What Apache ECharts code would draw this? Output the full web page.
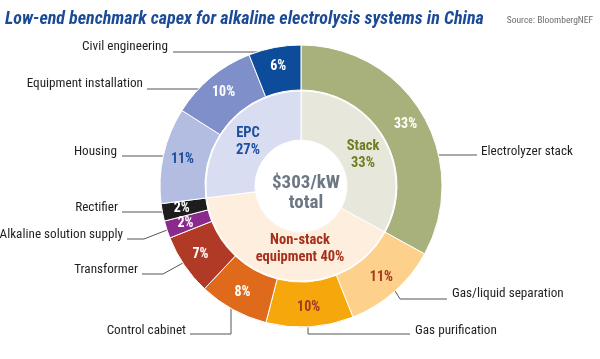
<!DOCTYPE html>
<html><head><meta charset="utf-8">
<script src="https://cdn.jsdelivr.net/npm/echarts@6/dist/echarts.min.js"></script>
<style>html,body{margin:0;padding:0;background:#fff}#c{width:600px;height:359px}</style>
</head><body><div id="c"></div>
<script>
// ---- data ----
const outerCategories = ['Electrolyzer stack','Gas/liquid separation','Gas purification','Control cabinet','Transformer','Alkaline solution supply','Rectifier','Housing','Equipment installation','Civil engineering'];
const outerValues = [33, 11, 10, 8, 7, 2, 2, 11, 10, 6];
const innerCategories = ['Stack', 'Non-stack\nequipment', 'EPC'];
const innerValues = [33, 40, 27];
const totalCost = 303;
const titleText = 'Low-end benchmark capex for alkaline electrolysis systems in China';
const sourceText = 'Source: BloombergNEF';

// ---- style ----
const FONT = "'Roboto Condensed',sans-serif";
const CX = 301, CY = 186, R_OUT = 141, R_MID = 95, R_IN = 46;
const outerColors = ['#a8b07c','#fdd08c','#f6a70c','#df6a1c','#b13a27','#8b2a8c','#1d1d1d','#b3bde2','#7f8fc9','#0c4c9b'];
const outerPctColors = ['#fff','#a3391f','#a3391f','#fff','#fff','#fff','#fff','#1f4f9e','#fff','#fff'];
const innerColors = ['#e7e8db','#fdeedd','#d9ddf1'];
const innerTextColors = ['#6f7d1f','#a52f1c','#1c4fa0'];
const innerLabelPos = [[363,155],[300,249],[248,142]];
// external labels: text anchor, align, contact spec, elbow/end points
const extLabels = [
  {tx:481, ty:152, align:'left',  contact:{side:'R', y:155}, pts:[[477,155]]},
  {tx:452, ty:294, align:'left',  contact:{side:'R', y:291}, pts:[[400,299],[447,299]]},
  {tx:415, ty:331, align:'left',  contact:{side:'B', x:308}, pts:[[308,334],[410,334]]},
  {tx:186, ty:331, align:'right', contact:{side:'B', x:231}, pts:[[231,334],[190,334]]},
  {tx:138, ty:270, align:'right', contact:{side:'L', y:263}, pts:[[163,274],[142,274]]},
  {tx:123, ty:235, align:'right', contact:{side:'L', y:230}, pts:[[144,239],[127,239]]},
  {tx:118, ty:208, align:'right', contact:{side:'L', y:212}, pts:[[122,212]]},
  {tx:117, ty:152, align:'right', contact:{side:'L', y:156}, pts:[[122,156]]},
  {tx:143, ty:84,  align:'right', contact:{side:'L', y:89},  pts:[[147,89]]},
  {tx:168, ty:47,  align:'right', contact:{side:'L', y:52},  pts:[[173,52]]}
];
function contactPoint(c){
  if (c.side === 'B') { const dx = c.x - CX; return [c.x, CY + Math.sqrt(R_OUT*R_OUT - dx*dx)]; }
  const dy = c.y - CY; const w = Math.sqrt(R_OUT*R_OUT - dy*dy);
  return [c.side === 'L' ? CX - w : CX + w, c.y];
}

const chart = echarts.init(document.getElementById('c'), null, {renderer:'canvas'});
chart.setOption({
  animation: false,
  backgroundColor: '#fff',
  title: [
    {text: titleText, left: 0, top: 5, textStyle:{fontFamily:FONT, fontSize:18, fontWeight:'bold', fontStyle:'italic', color:'#1b4b96'}},
    {text: sourceText, right: 2, top: 11, textStyle:{fontFamily:FONT, fontSize:9.5, fontWeight:'normal', color:'#6d6d6d'}},
    {text: '$' + totalCost + '/kW\ntotal', left: CX, top: CY + 2, textAlign:'center', textVerticalAlign:'middle',
     textStyle:{fontFamily:FONT, fontSize:19, fontWeight:'bold', color:'#6c7883', lineHeight:20}}
  ],
  series: [
    { // center white disc with soft edge
      type:'pie', center:[CX,CY], radius:[0,R_IN], silent:true, z:1,
      data:[{value:1, name:''}],
      itemStyle:{color:'#fff', shadowBlur:3, shadowColor:'rgba(0,0,0,0.35)'},
      label:{show:false}, labelLine:{show:false}
    },
    { // inner ring
      type:'pie', center:[CX,CY], radius:[R_IN,R_MID], startAngle:90, clockwise:true, silent:true,
      data: innerCategories.map((n,i)=>({name:n, value:innerValues[i], itemStyle:{color:innerColors[i]},
        label:{color:innerTextColors[i]}})),
      itemStyle:{borderColor:'#fff', borderWidth:1},
      label:{show:true, position:'inside', fontFamily:FONT, fontSize:14.5, fontWeight:'bold', lineHeight:17, align:'center',
        formatter: p => p.name.indexOf('\n')>=0 ? p.name + ' ' + p.value + '%' : p.name + '\n' + p.value + '%'},
      labelLine:{show:false},
      labelLayout: p => ({x: innerLabelPos[p.dataIndex][0], y: innerLabelPos[p.dataIndex][1], align:'center', verticalAlign:'middle'})
    },
    { // outer ring
      type:'pie', center:[CX,CY], radius:[R_MID+1,R_OUT], startAngle:90, clockwise:true, silent:true,
      data: outerCategories.map((n,i)=>({name:n, value:outerValues[i], itemStyle:{color:outerColors[i]},
        label:{color:outerPctColors[i]}})),
      itemStyle:{borderColor:'#fff', borderWidth:1},
      label:{show:true, position:'inside', fontFamily:FONT, fontSize:14, fontWeight:'bold', formatter: p => p.value + '%'},
      labelLine:{show:false}
    },
    { // outer category labels (transparent copy carrying leader lines)
      type:'pie', center:[CX,CY], radius:[R_MID+1,R_OUT], startAngle:90, clockwise:true, silent:true, z:1,
      data: outerCategories.map((n,i)=>({name:n, value:outerValues[i]})),
      itemStyle:{color:'rgba(0,0,0,0)'},
      label:{show:true, position:'outside', fontFamily:FONT, fontSize:13.2, color:'#231f20', formatter:'{b}', overflow:'none', width:300},
      labelLine:{show:true, lineStyle:{color:'#555', width:1}},
      labelLayout: p => {
        const L = extLabels[p.dataIndex];
        return {x:L.tx, y:L.ty, align:L.align, verticalAlign:'middle',
          labelLinePoints: [contactPoint(L.contact)].concat(L.pts.length===1 ? [L.pts[0], L.pts[0]] : L.pts)};
      }
    }
  ]
});
</script></body></html>
